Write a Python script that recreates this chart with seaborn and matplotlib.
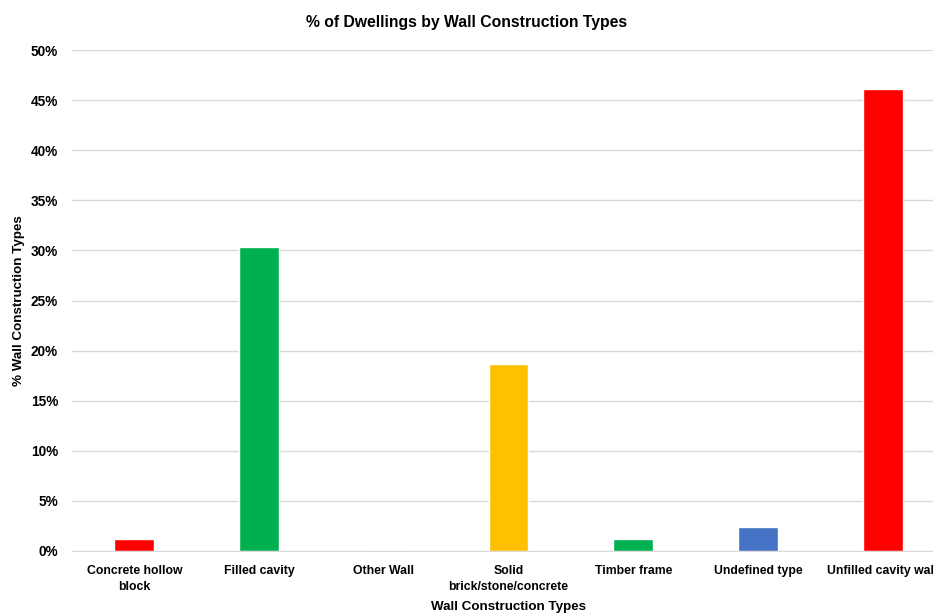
import matplotlib.pyplot as plt
import pandas as pd
import seaborn as sns
from matplotlib.ticker import PercentFormatter

categories = ['Concrete hollow\nblock', 'Filled cavity', 'Other Wall', 'Solid\nbrick/stone/concrete',
              'Timber frame', 'Undefined type', 'Unfilled cavity wall']
shares = [0.012, 0.303, 0.0, 0.187, 0.012, 0.024, 0.461]
bar_colors = ['#FF0000', '#00B050', '#A5A5A5', '#FFC000', '#00B050', '#4472C4', '#FF0000']

df = pd.DataFrame({'Type': categories, 'Share': shares})

sns.set_style('white')
plt.rcParams['font.family'] = ['Liberation Sans', 'DejaVu Sans']
plt.rcParams['text.color'] = 'black'
plt.rcParams['axes.labelcolor'] = 'black'
plt.rcParams['xtick.color'] = 'black'
plt.rcParams['ytick.color'] = 'black'

fig = plt.figure(figsize=(9.33, 6.14), dpi=100)
ax = fig.add_axes([72 / 933, 63 / 614, (945 - 72) / 933, 501 / 614])

sns.barplot(data=df, x='Type', y='Share', hue='Type', palette=bar_colors,
            legend=False, width=0.32, ax=ax, saturation=1)

ax.set_ylim(0, 0.5)
ax.set_xlim(-0.5, 6.5)
ax.set_yticks([i * 0.05 for i in range(11)])
ax.yaxis.set_major_formatter(PercentFormatter(1.0, decimals=0))
ax.grid(axis='y', color='#D9D9D9', linewidth=1)
ax.set_axisbelow(True)
for s in ['top', 'right', 'left']:
    ax.spines[s].set_visible(False)
ax.spines['bottom'].set_color('#D9D9D9')
ax.tick_params(axis='x', length=0, labelsize=8.8, pad=10)
ax.tick_params(axis='y', length=0, labelsize=9.8, pad=10)
for lab in ax.get_xticklabels() + ax.get_yticklabels():
    lab.set_fontweight('bold')
    lab.set_linespacing(1.45)

ax.set_xlabel('Wall Construction Types', fontsize=9.6, fontweight='bold', labelpad=6)
ax.set_ylabel('% Wall Construction Types', fontsize=9.6, fontweight='bold', labelpad=4)
fig.suptitle('% of Dwellings by Wall Construction Types', fontsize=11.3, fontweight='bold', y=0.975)

fig.savefig('out.png', dpi=100)
